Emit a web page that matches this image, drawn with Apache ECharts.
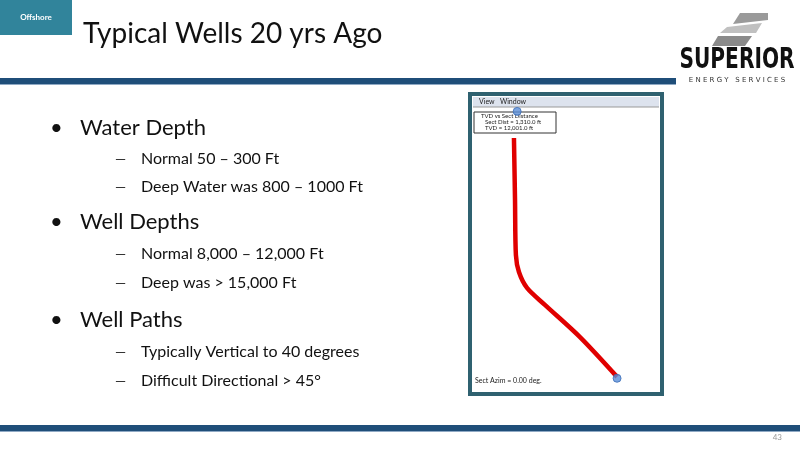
<!DOCTYPE html>
<html><head><meta charset="utf-8">
<script src="https://cdn.jsdelivr.net/npm/echarts@6/dist/echarts.min.js"></script>
<style>html,body{margin:0;padding:0;background:#fff}#c{width:800px;height:450px}</style>
</head><body><div id="c"></div>
<script>
// Well path: section distance (x, arbitrary units) vs TVD (y, arbitrary units, downward)
const sectDist = [21.2, 21.8, 22.3, 24.0, 28.5, 38.5, 58.1, 78.8];
const tvd      = [10.1, 32.4, 52.2, 58.3, 64.0, 70.1, 81.7, 96.0];
const markerX = [23.0, 78.8];
const markerY = [0.5, 96.5];
const bullets = ["Water Depth", "Well Depths", "Well Paths"];
const subItems = [
  ["Normal 50 – 300 Ft", "Deep Water was 800 – 1000 Ft"],
  ["Normal 8,000 – 12,000 Ft", "Deep was > 15,000 Ft"],
  ["Typically Vertical to 40 degrees", "Difficult Directional > 45°"]
];

const F = 'Lato, "Open Sans", sans-serif';
const g = [];
g.push({type:'rect', shape:{x:0,y:0,width:72,height:35}, style:{fill:'#31849b'}});
g.push({type:'text', x:36, y:17, style:{text:'Offshore', fill:'#fff', font:'bold 8px '+F, align:'center', verticalAlign:'middle'}});
g.push({type:'text', x:83, y:34, style:{text:'Typical Wells 20 yrs Ago', fill:'#111', font:'28px '+F, verticalAlign:'middle'}});
g.push({type:'rect', shape:{x:0,y:78,width:676,height:6}, style:{fill:'#1f4e79'}});
g.push({type:'rect', shape:{x:0,y:84,width:676,height:1}, style:{fill:'#8fa9c4'}});
g.push({type:'rect', shape:{x:0,y:425,width:800,height:6}, style:{fill:'#1f4e79'}});
g.push({type:'rect', shape:{x:0,y:431,width:800,height:1}, style:{fill:'#8fa9c4'}});
g.push({type:'text', x:782, y:437, style:{text:'43', fill:'#999', font:'8px '+F, align:'right', verticalAlign:'middle'}});
// logo
g.push({type:'polygon', shape:{points:[[740,13],[768,13],[768,20],[733,24]]}, style:{fill:'#9a9a9a'}});
g.push({type:'polygon', shape:{points:[[727,27],[762,23],[756,33],[720,33]]}, style:{fill:'#c0c0c0'}});
g.push({type:'polygon', shape:{points:[[718,36],[752,36],[745,46],[712,46]]}, style:{fill:'#8a8a8a'}});
g.push({type:'text', x:737, y:61, scaleX:0.72, style:{text:'SUPERIOR', fill:'#111', font:'bold 28px "DejaVu Sans", sans-serif', align:'center', verticalAlign:'middle'}});
g.push({type:'text', x:737, y:80, style:{text:'E N E R G Y   S E R V I C E S', fill:'#333', font:'7px "DejaVu Sans", sans-serif', align:'center', verticalAlign:'middle'}});
// bullets
const ys = [[128,159,187],[222,254,283],[320,352,381]];
bullets.forEach((b,i)=>{
  g.push({type:'text', x:50, y:ys[i][0], style:{text:'•', fill:'#111', font:'22px '+F, verticalAlign:'middle'}});
  g.push({type:'text', x:80, y:ys[i][0], style:{text:b, fill:'#111', font:'22px '+F, verticalAlign:'middle'}});
  subItems[i].forEach((s,j)=>{
    g.push({type:'text', x:115, y:ys[i][j+1], style:{text:'—', fill:'#111', font:'14px '+F, verticalAlign:'middle'}});
    g.push({type:'text', x:141, y:ys[i][j+1], style:{text:s, fill:'#111', font:'16px '+F, verticalAlign:'middle'}});
  });
});
// window frame
g.push({type:'rect', z:-1, shape:{x:470,y:94,width:192,height:300}, style:{fill:'#fff', stroke:'#2f6170', lineWidth:4}});
g.push({type:'rect', shape:{x:473,y:97,width:186,height:10}, style:{fill:'#dde3ee'}});
g.push({type:'line', shape:{x1:473,y1:107,x2:659,y2:107}, style:{stroke:'#999', lineWidth:1}});
g.push({type:'text', x:479, y:102, style:{text:'View   Window', fill:'#222', font:'7px '+F, verticalAlign:'middle'}});
g.push({type:'rect', shape:{x:474,y:112,width:82,height:21}, style:{fill:'#fff', stroke:'#333', lineWidth:1}});
g.push({type:'text', x:481, y:116, style:{text:'TVD vs Sect Distance', fill:'#222', font:'6px '+F, verticalAlign:'middle'}});
g.push({type:'text', x:485, y:122, style:{text:'Sect Dist = 1,310.0 ft', fill:'#222', font:'6px '+F, verticalAlign:'middle'}});
g.push({type:'text', x:485, y:128.5, style:{text:'TVD = 12,001.0 ft', fill:'#222', font:'6px '+F, verticalAlign:'middle'}});
g.push({type:'text', x:475, y:381, style:{text:'Sect Azim = 0.00 deg.', fill:'#222', font:'7px '+F, verticalAlign:'middle'}});

const chart = echarts.init(document.getElementById('c'));
chart.setOption({
  animation:false,
  grid:{left:476, right:145, top:110, bottom:62},
  xAxis:{type:'value', min:0, max:100, show:false},
  yAxis:{type:'value', min:0, max:100, inverse:true, show:false},
  graphic:g,
  series:[
    {type:'line', smooth:0.3, symbol:'none', data:sectDist.map((x,i)=>[x,tvd[i]]), lineStyle:{color:'#e00000', width:4.5}, z:3},
    {type:'scatter', symbolSize:8, data:markerX.map((x,i)=>[x,markerY[i]]), itemStyle:{color:'#5b8fd8', borderColor:'#3a6bb5', borderWidth:1}, z:4}
  ]
});
</script></body></html>
